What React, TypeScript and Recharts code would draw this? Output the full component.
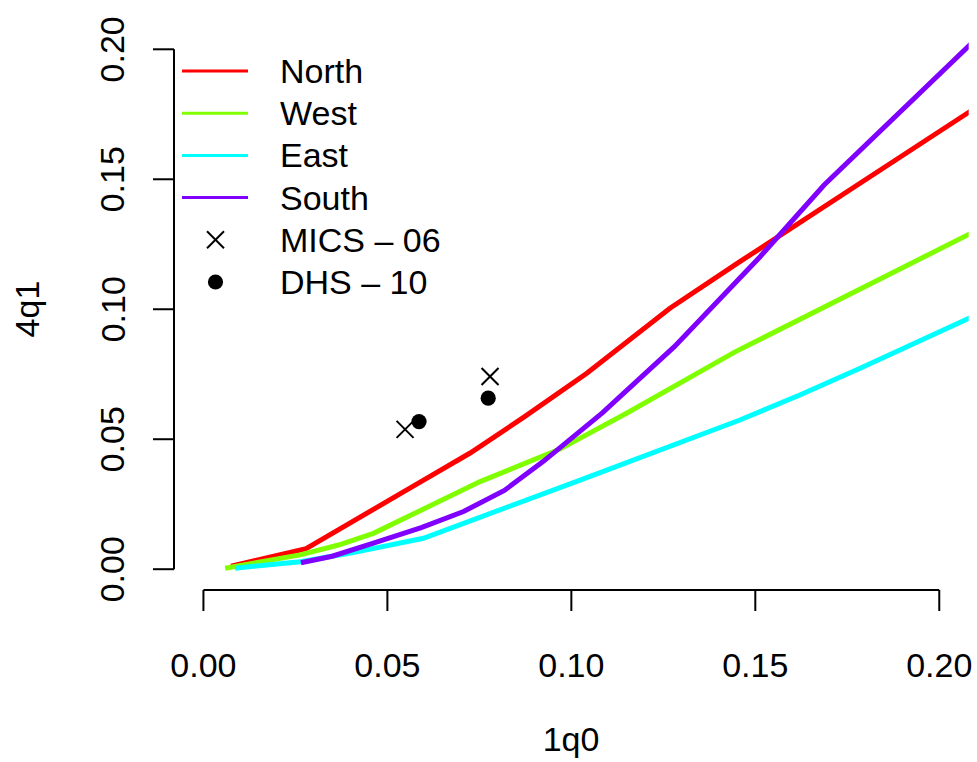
import { ComposedChart, Line, ReferenceLine, Scatter, XAxis, YAxis } from 'recharts'

const FONT = '"Liberation Sans", Arial, Helvetica, sans-serif'
const FS = 34

// 1q0 / 4q1 pairs, one pair of arrays per region
const northQ0 = [0.0075, 0.0279, 0.0589, 0.0725, 0.0873, 0.1042, 0.1268, 0.1458, 0.21]
const northQ1 = [0.0012, 0.0079, 0.0335, 0.0447, 0.0587, 0.0754, 0.1004, 0.1183, 0.1776]

const westQ0 = [0.0059, 0.0263, 0.0367, 0.0462, 0.0752, 0.0969, 0.115, 0.1445, 0.21]
const westQ1 = [0.0004, 0.0055, 0.0093, 0.0138, 0.0337, 0.0462, 0.06, 0.0836, 0.1302]

const eastQ0 = [0.0086, 0.0263, 0.04, 0.0598, 0.1024, 0.1458, 0.1621, 0.1785, 0.21]
const eastQ1 = [0.0004, 0.0029, 0.0062, 0.0119, 0.0343, 0.0574, 0.067, 0.0773, 0.0978]

const southQ0 = [0.0265, 0.035, 0.046, 0.0592, 0.0707, 0.0818, 0.0924, 0.1085, 0.128, 0.1513, 0.1687, 0.21]
const southQ1 = [0.0025, 0.005, 0.0099, 0.016, 0.0222, 0.0303, 0.0415, 0.0602, 0.0856, 0.1202, 0.1478, 0.204]

const micsQ0 = [0.0548, 0.0779]
const micsQ1 = [0.0538, 0.0741]

const dhsQ0 = [0.0586, 0.0774]
const dhsQ1 = [0.0568, 0.0658]

const ticks = [0, 0.05, 0.1, 0.15, 0.2]
const domain: [number, number] = [-0.008, 0.208]

const toPoints = (xs: number[], ys: number[]) => xs.map((x, i) => ({ x, y: ys[i] }))

const lines = [
  { name: 'North', color: '#FF0000', data: toPoints(northQ0, northQ1) },
  { name: 'West', color: '#80FF00', data: toPoints(westQ0, westQ1) },
  { name: 'East', color: '#00FFFF', data: toPoints(eastQ0, eastQ1) },
  { name: 'South', color: '#8000FF', data: toPoints(southQ0, southQ1) },
]

const micsLabel = 'MICS \u2013 06'
const dhsLabel = 'DHS \u2013 10'

const Cross = ({ cx, cy }: any) => (
  <g stroke="#000" strokeWidth={2}>
    <line x1={cx - 8.5} y1={cy - 8.5} x2={cx + 8.5} y2={cy + 8.5} />
    <line x1={cx - 8.5} y1={cy + 8.5} x2={cx + 8.5} y2={cy - 8.5} />
  </g>
)

const Dot = ({ cx, cy }: any) => <circle cx={cx} cy={cy} r={7.6} fill="#000" />

const XTick = ({ x, y, payload }: any) => (
  <text x={x} y={y + 66} textAnchor="middle" fontSize={FS} fontFamily={FONT} fill="#000">
    {payload.value.toFixed(2)}
  </text>
)

const YTick = ({ x, y, payload }: any) => (
  <text
    x={x - 28.5}
    y={y}
    transform={`rotate(-90, ${x - 28.5}, ${y})`}
    textAnchor="middle"
    fontSize={FS}
    fontFamily={FONT}
    fill="#000"
  >
    {payload.value.toFixed(2)}
  </text>
)

function LegendBox() {
  const rowY = (i: number) => 71 + i * 42.2
  return (
    <g fontFamily={FONT} fontSize={FS} fill="#000">
      {lines.map((l, i) => (
        <g key={l.name}>
          <line x1={182} x2={248} y1={rowY(i)} y2={rowY(i)} stroke={l.color} strokeWidth={3} />
          <text x={280} y={rowY(i) + 12}>{l.name}</text>
        </g>
      ))}
      <Cross cx={215.5} cy={rowY(4)} />
      <text x={280} y={rowY(4) + 12}>{micsLabel}</text>
      <Dot cx={215.5} cy={rowY(5)} />
      <text x={280} y={rowY(5) + 12}>{dhsLabel}</text>
    </g>
  )
}

export default function App() {
  return (
    <div style={{ position: 'absolute', left: 0, top: 0, background: '#fff' }}>
      <ComposedChart width={977} height={762} margin={{ top: 28.5, right: 8.3, left: 0, bottom: 0 }}>
        <XAxis
          type="number"
          dataKey="x"
          domain={domain}
          ticks={ticks}
          allowDataOverflow
          axisLine={false}
          tickLine={{ stroke: '#000', strokeWidth: 2 }}
          tickSize={21}
          tickMargin={0}
          height={172}
          tick={<XTick />}
        />
        <YAxis
          type="number"
          dataKey="y"
          domain={domain}
          ticks={ticks}
          allowDataOverflow
          axisLine={false}
          tickLine={{ stroke: '#000', strokeWidth: 2 }}
          tickSize={21}
          tickMargin={0}
          width={174}
          tick={<YTick />}
        />
        <ReferenceLine
          segment={[{ x: 0, y: domain[0] }, { x: 0.2, y: domain[0] }]}
          stroke="#000"
          strokeWidth={2}
          ifOverflow="visible"
        />
        <ReferenceLine
          segment={[{ x: domain[0], y: 0 }, { x: domain[0], y: 0.2 }]}
          stroke="#000"
          strokeWidth={2}
          ifOverflow="visible"
        />
        {lines.map((l) => (
          <Line
            key={l.name}
            data={l.data}
            dataKey="y"
            name={l.name}
            type="linear"
            stroke={l.color}
            strokeWidth={5}
            dot={false}
            activeDot={false}
            isAnimationActive={false}
          />
        ))}
        <Scatter data={toPoints(micsQ0, micsQ1)} dataKey="y" shape={<Cross />} isAnimationActive={false} />
        <Scatter data={toPoints(dhsQ0, dhsQ1)} dataKey="y" shape={<Dot />} isAnimationActive={false} />
        <LegendBox />
        <text x={571} y={751} textAnchor="middle" fontSize={FS} fontFamily={FONT} fill="#000">
          1q0
        </text>
        <text
          x={38.5}
          y={309}
          transform="rotate(-90, 38.5, 309)"
          textAnchor="middle"
          fontSize={FS}
          fontFamily={FONT}
          fill="#000"
        >
          4q1
        </text>
      </ComposedChart>
    </div>
  )
}
